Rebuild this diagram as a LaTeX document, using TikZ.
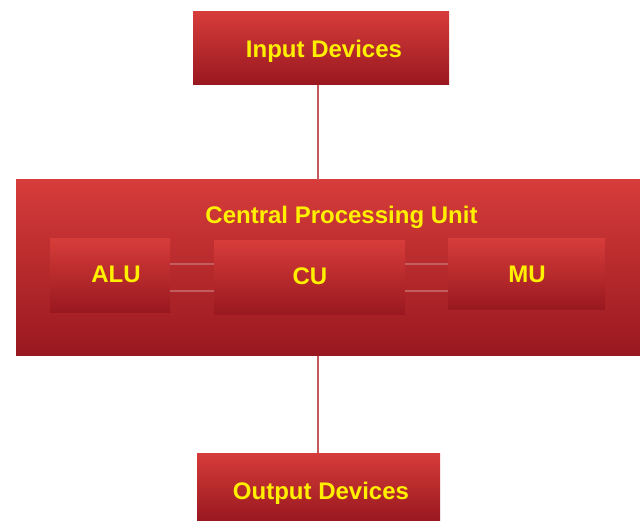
\documentclass[tikz,border=0pt]{standalone}
\usepackage{fontspec}
\setmainfont{Liberation Sans}
\definecolor{boxtop}{HTML}{D63C3A}
\definecolor{boxbot}{HTML}{98181F}
\definecolor{txt}{HTML}{FFF000}
\definecolor{wire}{HTML}{C45A5C}
\definecolor{link}{HTML}{C87070}
\begin{document}
\begin{tikzpicture}[x=1pt,y=-1pt,
  redbox/.style={rectangle,inner sep=0pt,draw=none,top color=boxtop,bottom color=boxbot},
  title/.style={inner sep=0pt,font=\fontsize{24}{28}\selectfont\bfseries,text=txt},
  wireline/.style={draw=wire,line width=2pt},
  linkline/.style={draw=link,line width=2pt,opacity=0.75}]
\useasboundingbox (0,0) rectangle (640,521);
\node[redbox,minimum width=256pt,minimum height=73pt] (in) at (321,48.5) {};
\node[title] (intext) at (324,51) {Input Devices};
\node[redbox,minimum width=624pt,minimum height=176pt] (cpu) at (328,268) {};
\node[title] (cputext) at (341.5,217) {Central Processing Unit};
\node[redbox,minimum width=120pt,minimum height=74pt] (alu) at (110,276) {};
\node[title] (alutext) at (116,274.5) {ALU};
\node[redbox,minimum width=191pt,minimum height=74pt] (cu) at (309.5,278) {};
\node[title] (cutext) at (310,276.5) {CU};
\node[redbox,minimum width=157pt,minimum height=71pt] (mu) at (526.5,274.5) {};
\node[title] (mutext) at (527,274.5) {MU};
\node[redbox,minimum width=243pt,minimum height=68pt] (out) at (318.5,487) {};
\node[title] (outtext) at (321,493) {Output Devices};
\draw[wireline] (318,0 |- in.south) -- (318,0 |- cpu.north);
\draw[wireline] (318,0 |- cpu.south) -- (318,0 |- out.north);
\draw[linkline] (alu.east |- 0,264) -- (cu.west |- 0,264);
\draw[linkline] (alu.east |- 0,291.5) -- (cu.west |- 0,291.5);
\draw[linkline] (cu.east |- 0,264) -- (mu.west |- 0,264);
\draw[linkline] (cu.east |- 0,291.5) -- (mu.west |- 0,291.5);
\end{tikzpicture}
\end{document}
